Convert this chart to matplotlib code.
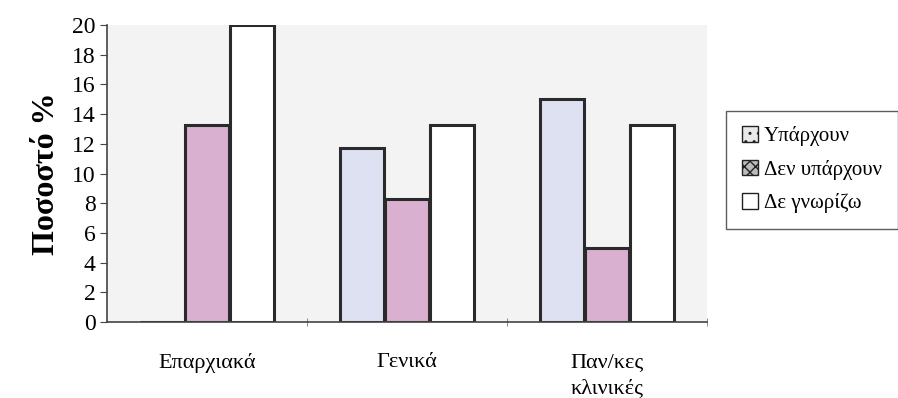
import numpy as np
import matplotlib.pyplot as plt
from matplotlib.patches import Patch

plt.rcParams['font.family'] = ['Liberation Serif', 'DejaVu Serif']

categories = ["Επαρχιακά", "Γενικά", "Παν/κες\nκλινικές"]
series = ["Υπάρχουν", "Δεν υπάρχουν", "Δε γνωρίζω"]
yparxoun = [0, 11.7, 15]
den_yparxoun = [13.3, 8.3, 5]
de_gnorizo = [20, 13.3, 13.3]

colors = ["#dde1f2", "#d9b0cf", "#ffffff"]

fig = plt.figure(figsize=(8.98, 3.98), dpi=100)
ax = fig.add_axes([0.119, 0.191, 0.668, 0.746])
ax.set_facecolor("#f3f3f3")

x = np.arange(len(categories))
w = 0.22
for i, (vals, col) in enumerate(zip([yparxoun, den_yparxoun, de_gnorizo], colors)):
    ax.bar(x + (i - 1) * 0.225, vals, width=w, color=col,
           edgecolor="#2a2a2a", linewidth=2.2)

ax.set_xlim(-0.5, 2.5)
ax.set_ylim(0, 20)
ax.set_yticks(np.arange(0, 21, 2))
ax.tick_params(axis="y", labelsize=17, length=5, direction="out", color="#444444", pad=3)

# category names in the middle, tick marks on the group boundaries
ax.set_xticks(x)
ax.set_xticklabels(categories, fontsize=16, linespacing=1.5)
ax.tick_params(axis="x", length=0, pad=22)
ax.set_xticks([0.5, 1.5, 2.5], minor=True)
ax.tick_params(axis="x", which="minor", length=6, direction="inout", color="#777777")

for s in ["top", "right"]:
    ax.spines[s].set_visible(False)
ax.spines["left"].set_color("#444444")
ax.spines["bottom"].set_color("#444444")
ax.spines["left"].set_linewidth(1.2)
ax.spines["bottom"].set_linewidth(1.2)

ax.set_ylabel("Ποσοστό %", fontsize=23, fontweight="bold", labelpad=8)

handles = [Patch(facecolor="#e8e8e8", edgecolor="#222222", hatch="..", label=series[0]),
           Patch(facecolor="#bbbbbb", edgecolor="#222222", hatch="xxx", label=series[1]),
           Patch(facecolor="white", edgecolor="#222222", label=series[2])]
leg = fig.legend(handles=handles, loc="upper left", bbox_to_anchor=(0.809, 0.722),
                 fontsize=15, frameon=True, fancybox=False, handlelength=0.75,
                 handleheight=0.75, handletextpad=0.3, labelspacing=0.65,
                 borderpad=0.75, borderaxespad=0)
leg.get_frame().set_edgecolor("#333333")
leg.get_frame().set_linewidth(1.0)

fig.savefig("out.png", dpi=100)
